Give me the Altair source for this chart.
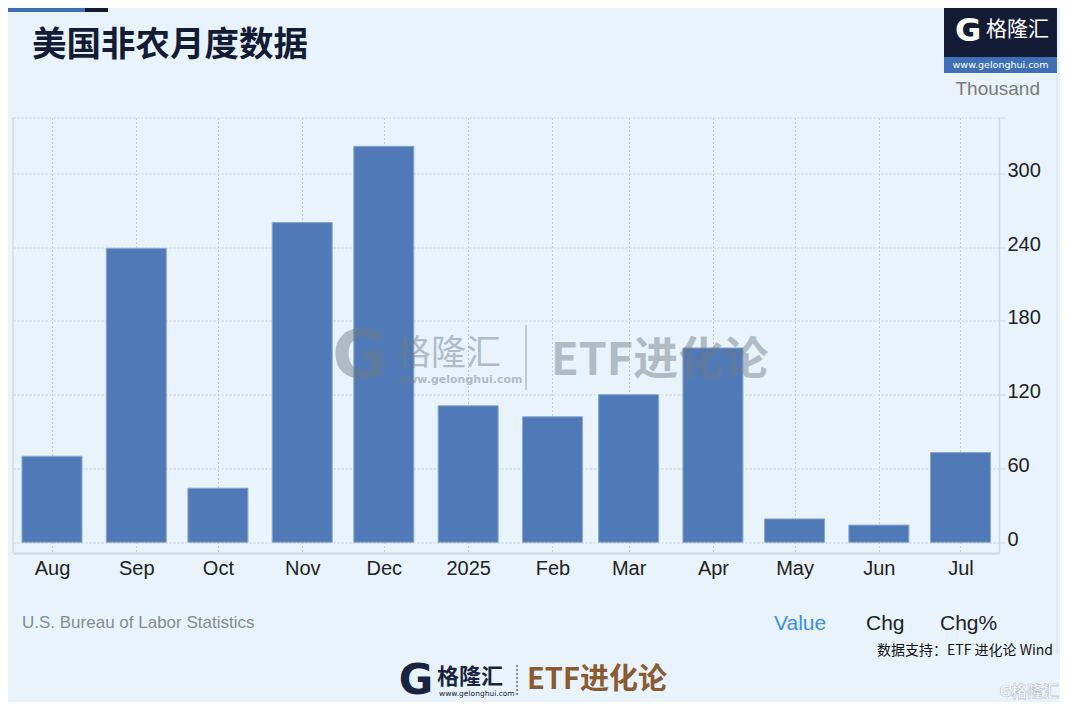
import altair as alt
import pandas as pd

# ---- data ----
months = ["2024-08-01", "2024-09-01", "2024-10-01", "2024-11-01", "2024-12-01", "2025-01-01",
          "2025-02-01", "2025-03-01", "2025-04-01", "2025-05-01", "2025-06-01", "2025-07-01"]
values = [70, 239, 44, 260, 322, 111, 102, 120, 158, 19, 14, 73]
y_ticks = [0, 60, 120, 180, 240, 300]

title_text = "美国非农月度数据"
unit_text = "Thousand"
source_text = "U.S. Bureau of Labor Statistics"
tab_labels = ["Value", "Chg", "Chg%"]
credit_text = "数据支持：ETF 进化论 Wind"

SANS = "Liberation Sans, Arial, Helvetica, sans-serif"
CJK = "Noto Sans CJK SC, sans-serif"
BG = "#e8f3fc"
W, H = 986, 435.5
Y_MAX = 345.4
Y_MIN = -8.7

df = pd.DataFrame({"month": months, "value": values})

bars = alt.Chart(df).mark_bar(size=60, color="#507ab7", stroke="#8aa6d0", strokeWidth=1).encode(
    x=alt.X("month:T",
            scale=alt.Scale(type="utc", padding=0,
                            domain=[alt.DateTime(year=2024, month=7, date=17, hours=16, utc=True),
                                    alt.DateTime(year=2025, month=7, date=15, hours=4, utc=True)]),
            axis=alt.Axis(
                title=None,
                values=[alt.DateTime(year=int(m[:4]), month=int(m[5:7]), date=1, utc=True) for m in months],
                labelExpr="utcFormat(datum.value, '%m') == '01' ? utcFormat(datum.value, '%Y') : utcFormat(datum.value, '%b')",
                labelFont=SANS, labelFontSize=20, labelColor="#222222", labelPadding=5,
                tickSize=0, grid=True, gridDash=[2, 2], gridColor="#c3ccd6", gridWidth=1,
                domain=True, domainColor="#cfd9e3", domainWidth=2, labelFlush=False)),
    y=alt.Y("value:Q",
            scale=alt.Scale(domain=[Y_MIN, Y_MAX], nice=False, zero=False, padding=0),
            axis=alt.Axis(
                title=None, orient="right",
                values=y_ticks + [Y_MAX],
                labelExpr="datum.value > 320 ? '' : datum.label",
                labelFont=SANS, labelFontSize=20, labelColor="#222222", labelPadding=2,
                labelOffset=-3,
                tickSize=6, tickColor="#cfd9e3", grid=True, gridDash=[2, 2], gridColor="#c3ccd6",
                domain=True, domainColor="#cfd9e3", domainWidth=1.5)),
)


def one():
    return alt.Chart(pd.DataFrame({"a": [0]}))


def txt(text, x, y, size, color, weight="normal", align="left", font=SANS, opacity=1.0,
        baseline="middle", stroke=None, strokeWidth=0):
    mk = dict(align=align, baseline=baseline, fontSize=size, color=color, fontWeight=weight,
              font=font, opacity=opacity)
    if stroke:
        mk.update(stroke=stroke, strokeWidth=strokeWidth)
    return alt.Chart(pd.DataFrame({"t": [text]})).mark_text(**mk).encode(
        text="t:N", x=alt.value(x), y=alt.value(y))


def rect(x1, x2, y1, y2, color, opacity=1.0):
    return one().mark_rect(color=color, opacity=opacity).encode(
        x=alt.value(x1), x2=alt.value(x2), y=alt.value(y1), y2=alt.value(y2))


def vrule(x, y1, y2, color, width=1.0, dash=None, opacity=1.0):
    mk = dict(color=color, strokeWidth=width, opacity=opacity)
    if dash:
        mk["strokeDash"] = dash
    return one().mark_rule(**mk).encode(x=alt.value(x), y=alt.value(y1), y2=alt.value(y2))


WM = "#6f7885"
WMO = 0.45

layers = [
    bars,
    # left border of plot
    vrule(0, 0, H, "#d3dce6", 1.5),
    # right long separator line
    vrule(1044, -42.5, 537.5, "#d6e1ec", 1),
    # top-left decoration
    rect(-6, 72, -118, -105.5, "#3f6fb5"),
    rect(72, 95, -118, -105.5, "#141b34"),
    # title
    txt(title_text, 19, -72, 34.5, "#141b34", weight="bold", font=CJK),
    # logo top right
    rect(931, 1044, -114.5, -60.5, "#141b34"),
    rect(931, 1044, -60.5, -44.5, "#3f6fb5"),
    txt("G", 955, -87, 32, "#ffffff", weight="bold", align="center", font="DejaVu Sans"),
    txt("格隆汇", 973, -87.5, 21, "#ffffff", font=CJK),
    txt("www.gelonghui.com", 987.5, -52.5, 9.5, "#ffffff", align="center", font="DejaVu Sans"),
    txt(unit_text, 1027, -28.5, 19, "#7a7a7a", align="right"),
    # center watermark
    txt("G", 347, 240, 68, WM, weight="bold", align="center", font="DejaVu Sans", opacity=WMO),
    txt("格隆汇", 383, 236, 35, WM, font=CJK, opacity=WMO),
    txt("www.gelonghui.com", 384, 262, 11, WM, weight="bold", font="DejaVu Sans", opacity=WMO),
    vrule(513, 207.5, 272.5, WM, 1.5, opacity=WMO),
    txt("ETF进化论", 538, 243, 45, WM, weight="bold", font=CJK, opacity=WMO),
    # footer
    txt(source_text, 9, 505.5, 17, "#868b92"),
    txt(tab_labels[0], 761, 506, 21, "#3b8fe8"),
    txt(tab_labels[1], 853, 506, 21, "#222222"),
    txt(tab_labels[2], 927, 506, 21, "#222222"),
    txt(credit_text, 1040, 533.5, 14, "#111111", align="right", font=CJK),
    # bottom logo
    txt("G", 403, 563, 42, "#1a2340", weight="bold", align="center", font="DejaVu Sans"),
    txt("格隆汇", 424, 559, 22, "#1a2340", weight="bold", font=CJK),
    txt("www.gelonghui.com", 426, 576, 7.5, "#1a2340", font="DejaVu Sans"),
    vrule(504, 547.5, 579.5, "#1a2340", 1, dash=[2, 2]),
    txt("ETF进化论", 514, 562.5, 29, "#8a5a30", weight="bold", font=CJK),
    # bottom-right watermark
    txt("G格隆汇", 1046, 574, 16, "#ffffff", weight="bold", align="right", font=CJK,
        stroke="#b8c0c8", strokeWidth=0.6),
]

chart = alt.layer(*layers).properties(
    width=W, height=H,
    autosize=alt.AutoSizeParams(type="none"),
    padding={"left": 5, "top": 109.5, "right": 61, "bottom": 149},
).configure(background=BG).configure_view(stroke=None)

chart.save("out.html", embed_options={"renderer": "svg", "actions": False})
